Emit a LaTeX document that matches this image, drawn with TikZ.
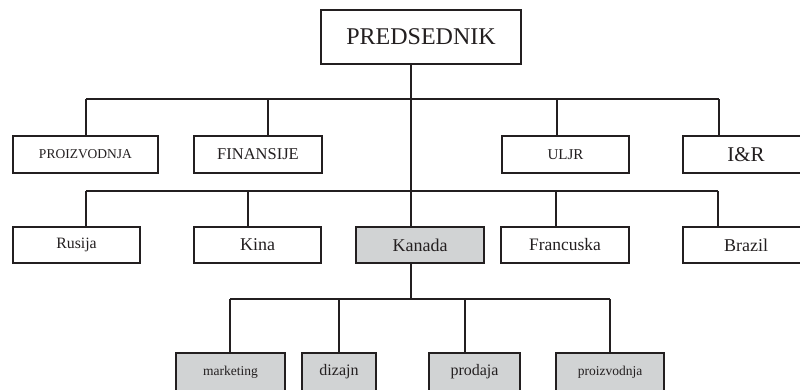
\documentclass[tikz,border=0pt]{standalone}
\usepackage{fontspec}
\setmainfont{Liberation Serif}
\definecolor{ink}{HTML}{231F20}
\definecolor{unitgray}{HTML}{D1D3D4}
\newcommand{\fsz}[1]{\fontsize{#1}{#1}\selectfont}
\begin{document}
\begin{tikzpicture}[x=1pt,y=-1pt,
  unit/.style={draw=ink,line width=1.6pt,fill=white,text=ink,inner sep=0pt,
    minimum height=37pt},
  shaded/.style={unit,fill=unitgray},
  link/.style={draw=ink,line width=1.5pt}]
\useasboundingbox (0,0) rectangle (800,389);
\clip (0,0) rectangle (800,389);

% top level
\node[unit,minimum width=200pt,minimum height=54pt,font=\fsz{24}] (pres) at (421,37) {PREDSEDNIK};

% departments
\node[unit,minimum width=145pt,font=\fsz{13.5}] (proi) at (85.5,154.5) {PROIZVODNJA};
\node[unit,minimum width=128pt,font=\fsz{16.5}] (fin) at (258,154.5) {FINANSIJE};
\node[unit,minimum width=127pt,font=\fsz{15}] (uljr) at (565.5,154.5) {ULJR};
\node[unit,minimum width=126pt,font=\fsz{21}] (ir) at (746,154.5) {I\&R};

% countries
\node[unit,minimum width=127pt,minimum height=36pt,font=\fsz{15.8}] (rus) at (76.5,245) {Rusija};
\node[unit,minimum width=127pt,minimum height=36pt,font=\fsz{18}] (kina) at (257.5,245) {Kina};
\node[shaded,minimum width=128pt,minimum height=36pt,font=\fsz{18}] (kan) at (420,245) {Kanada};
\node[unit,minimum width=128pt,minimum height=36pt,font=\fsz{17.5}] (fra) at (565,245) {Francuska};
\node[unit,minimum width=126pt,minimum height=36pt,font=\fsz{18}] (bra) at (746,245) {Brazil};

% Canadian units
\node[shaded,minimum width=109pt,minimum height=38pt,font=\fsz{13.5}] (mkt) at (230.5,372) {marketing};
\node[shaded,minimum width=74pt,minimum height=38pt,font=\fsz{16}] (diz) at (339,372) {dizajn};
\node[shaded,minimum width=91pt,minimum height=38pt,font=\fsz{16}] (prod) at (474.5,372) {prodaja};
\node[shaded,minimum width=108pt,minimum height=38pt,font=\fsz{13.5}] (proi2) at (610,372) {proizvodnja};

% bus lines
\coordinate (b1w) at (86,99);  \coordinate (b1e) at (719,99);
\coordinate (b2w) at (86,191); \coordinate (b2e) at (718,191);
\coordinate (b3w) at (230,299); \coordinate (b3e) at (610,299);
\draw[link] (b1w) -- (b1e);
\draw[link] (b2w) -- (b2e);
\draw[link] (b3w) -- (b3e);

% main trunk
\draw[link] ([xshift=-10pt]pres.south) -- ([xshift=-9pt]kan.north);
\draw[link] ([xshift=-9pt]kan.south) -- ([xshift=-9pt]kan.south |- b3w);

% drops to departments
\draw[link] ([xshift=0.5pt]proi.north) -- ([xshift=0.5pt]proi.north |- b1w);
\draw[link] ([xshift=10pt]fin.north) -- ([xshift=10pt]fin.north |- b1w);
\draw[link] ([xshift=-8.5pt]uljr.north) -- ([xshift=-8.5pt]uljr.north |- b1w);
\draw[link] ([xshift=-27pt]ir.north) -- ([xshift=-27pt]ir.north |- b1w);

% drops to countries
\draw[link] ([xshift=9.5pt]rus.north) -- ([xshift=9.5pt]rus.north |- b2w);
\draw[link] ([xshift=-9.5pt]kina.north) -- ([xshift=-9.5pt]kina.north |- b2w);
\draw[link] ([xshift=-9pt]fra.north) -- ([xshift=-9pt]fra.north |- b2w);
\draw[link] ([xshift=-28pt]bra.north) -- ([xshift=-28pt]bra.north |- b2w);

% drops to Canadian units
\draw[link] ([xshift=-0.5pt]mkt.north) -- ([xshift=-0.5pt]mkt.north |- b3w);
\draw[link] (diz.north) -- (diz.north |- b3w);
\draw[link] ([xshift=-9.5pt]prod.north) -- ([xshift=-9.5pt]prod.north |- b3w);
\draw[link] (proi2.north) -- (proi2.north |- b3w);
\end{tikzpicture}
\end{document}
